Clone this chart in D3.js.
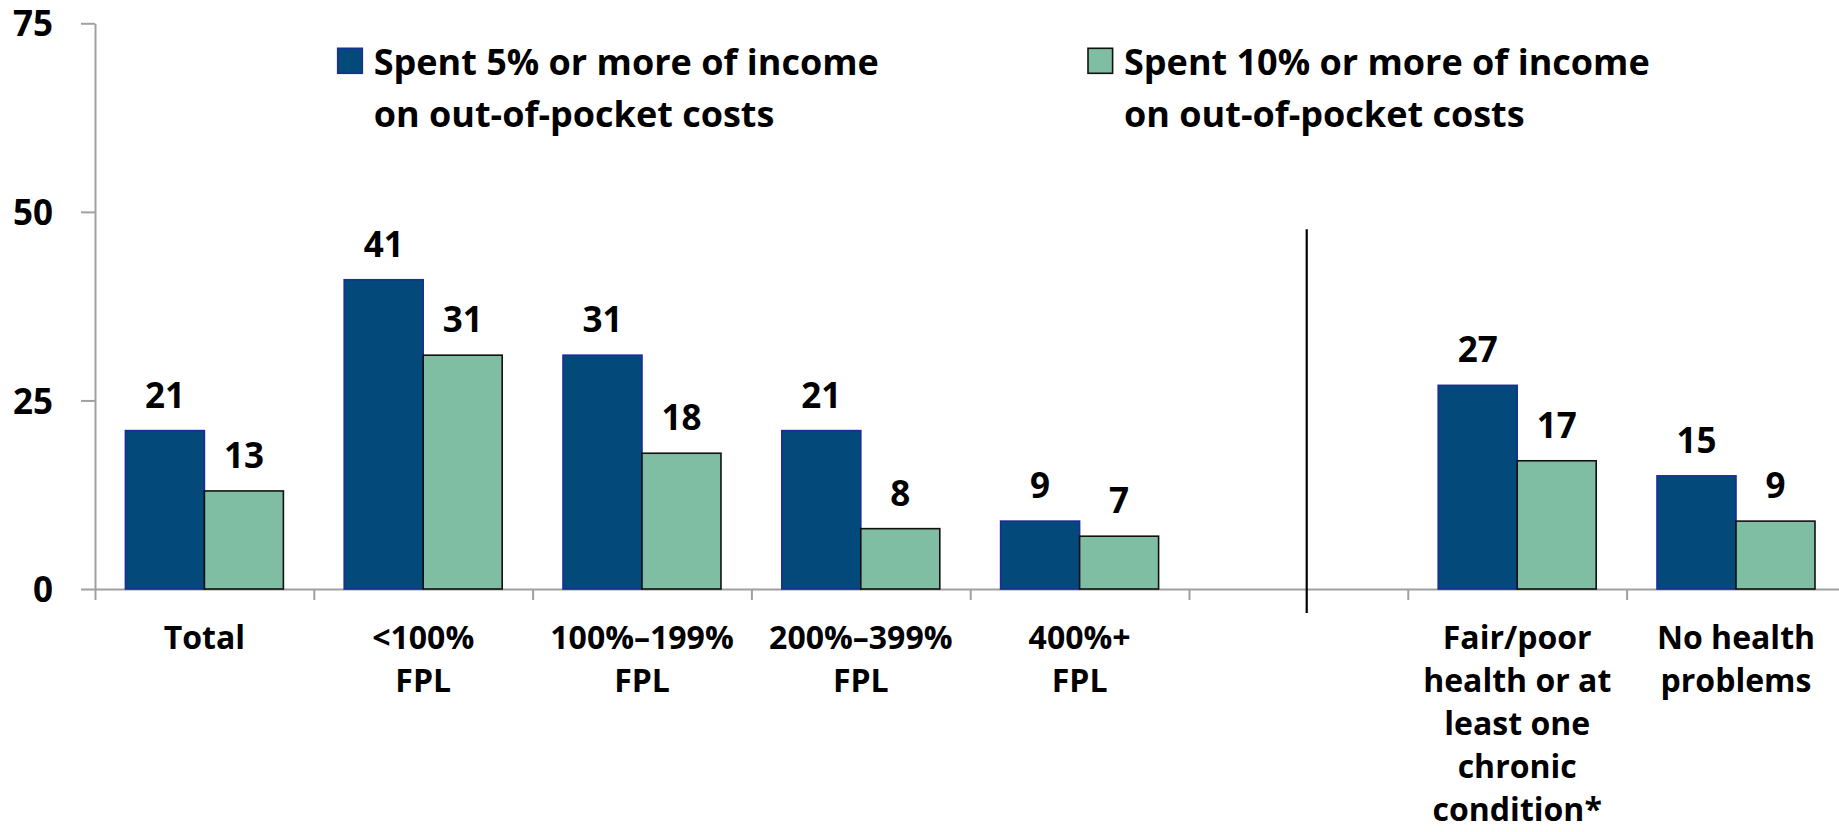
<!DOCTYPE html>
<html>
<head>
<meta charset="utf-8">
<script src="https://cdn.jsdelivr.net/npm/d3@7/dist/d3.min.js"></script>
<style>
  html, body { margin: 0; padding: 0; background: #fff; }
  svg { display: block; }
  text { font-family: "Open Sans", Lato, "Noto Sans", sans-serif; font-weight: 700; fill: #000; }
</style>
</head>
<body>
<svg id="chart" width="1839" height="832"></svg>
<script>
// Categories (the empty slot separates income groups from health groups)
const categories = ["Total", "<100%\nFPL", "100%–199%\nFPL", "200%–399%\nFPL", "400%+\nFPL", "",
  "Fair/poor\nhealth or at\nleast one\nchronic\ncondition*", "No health\nproblems"];
const seriesNames = ["Spent 5% or more of income\non out-of-pocket costs",
  "Spent 10% or more of income\non out-of-pocket costs"];
const spent5 = [21, 41, 31, 21, 9, null, 27, 15];
const spent10 = [13, 31, 18, 8, 7, null, 17, 9];
const yTicks = [0, 25, 50, 75];

const colors = ["#03497A", "#80BEA3"];
const strokes = ["#1a2d9a", "#111111"];

const svg = d3.select("#chart");

const left = 95, baseY = 589, topY = 23.3, step = 218.8;
const y = d3.scaleLinear().domain([0, 75]).range([baseY, topY]);
const xIdx = d3.scaleLinear().domain([0, categories.length]).range([left, left + step * categories.length]);
const x = d3.scaleBand().domain(d3.range(categories.length)).range(xIdx.range()).padding(0);
const xs = d3.scaleBand().domain([0, 1]).range([0, x.bandwidth()]).paddingInner(0).paddingOuter(0.385);

// Y axis
const yAxis = svg.append("g")
  .attr("transform", `translate(${left},0)`)
  .call(d3.axisLeft(y).tickValues(yTicks).tickSize(14).tickSizeOuter(0).tickPadding(28));
yAxis.select(".domain").attr("stroke", "#a0a0a0").attr("stroke-width", 2);
yAxis.selectAll(".tick line").attr("stroke", "#a0a0a0").attr("stroke-width", 2);
yAxis.selectAll(".tick text").attr("font-size", 35).attr("font-family", null).attr("font-weight", null)
  .attr("dy", "0.36em").attr("fill", "#000");

// X axis: ticks at category boundaries
const xAxis = svg.append("g")
  .attr("transform", `translate(0,${baseY})`)
  .call(d3.axisBottom(xIdx).tickValues(d3.range(0, categories.length + 1)).tickSize(11).tickSizeOuter(0).tickFormat(""));
xAxis.select(".domain").attr("stroke", "#a0a0a0").attr("stroke-width", 2);
xAxis.selectAll(".tick line").attr("stroke", "#a0a0a0").attr("stroke-width", 2);

// Bars and value labels
const series = [spent5, spent10];
series.forEach((vals, si) => {
  const data = vals.map((v, i) => ({ i, v })).filter(d => d.v !== null);
  svg.append("g").selectAll("rect").data(data).join("rect")
    .attr("x", d => x(d.i) + xs(si))
    .attr("y", d => y(d.v))
    .attr("width", xs.bandwidth())
    .attr("height", d => y(0) - y(d.v))
    .attr("fill", colors[si])
    .attr("stroke", strokes[si])
    .attr("stroke-width", 1.6);
  svg.append("g").selectAll("text").data(data).join("text")
    .attr("x", d => x(d.i) + xs(si) + xs.bandwidth() / 2)
    .attr("y", d => y(d.v) - 23)
    .attr("text-anchor", "middle")
    .attr("font-size", 35)
    .text(d => d.v);
});

// Divider between income and health groups
svg.append("line")
  .attr("x1", xIdx(5.538)).attr("x2", xIdx(5.538))
  .attr("y1", y(47.7)).attr("y2", baseY + 24)
  .attr("stroke", "#000").attr("stroke-width", 2.2);

// Category labels
const catG = svg.append("g");
categories.forEach((c, i) => {
  if (!c) return;
  const cx = x(i) + x.bandwidth() / 2;
  const t = catG.append("text")
    .attr("x", cx)
    .attr("y", 649)
    .attr("text-anchor", "middle")
    .attr("font-size", 32);
  c.split("\n").forEach((line, k) => {
    t.append("tspan").attr("x", cx).attr("dy", k === 0 ? 0 : 43).text(line);
  });
});

// Legend
const legendX = [337.7, 1088];
seriesNames.forEach((name, si) => {
  const g = svg.append("g").attr("transform", `translate(${legendX[si]},48.3)`);
  g.append("rect").attr("width", 24.6).attr("height", 25)
    .attr("fill", colors[si]).attr("stroke", strokes[si]).attr("stroke-width", 1.6);
  const t = g.append("text").attr("x", 36).attr("y", 27).attr("font-size", 36);
  name.split("\n").forEach((line, k) => {
    t.append("tspan").attr("x", 36).attr("dy", k === 0 ? 0 : 52).text(line);
  });
});
</script>
</body>
</html>
